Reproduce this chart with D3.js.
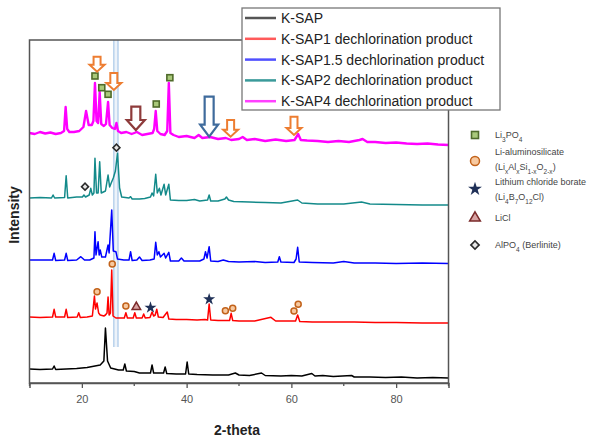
<!DOCTYPE html>
<html>
<head>
<meta charset="utf-8">
<script src="https://cdn.jsdelivr.net/npm/d3@7"></script>
<style>
body { margin: 0; background: #fff; }
text { font-family: "Liberation Sans", Arial, sans-serif; }
</style>
</head>
<body>
<script>
var W = 595, H = 441;

// XRD patterns, [2-theta, stacked intensity (a.u.)]
var kSap = [[10,14],[12,13.5],[14.4,14],[14.7,17],[15,13.5],[17,14],[19,14.5],[21,15.5],[22.5,17],[23.5,18],[24.2,22],[24.5,55],[24.9,22],[25.5,15],[27,13],[27.9,13],[28.2,19],[28.5,12],[30,11.5],[31,10],[33.1,10],[33.4,18],[33.7,10],[35.6,10],[35.9,16],[36.2,9.5],[38,9],[39.8,9],[40.1,21],[40.4,9],[42,8.5],[45,8],[48,8],[49.3,10],[50,8],[52,7.5],[54.3,10],[55,7.5],[58,7],[60,7.5],[62,7],[63.9,9.5],[64.5,7],[66,7.5],[68,6.5],[71.5,7.5],[72,6],[75,6],[78,5.5],[81,6],[84,5],[87,5.5],[90,5]];

var kSap1 = [[10,66],[12,65.5],[14.4,66],[14.7,73.7],[15,66],[16.7,66],[17,73.7],[17.3,65.5],[19.1,66],[19.4,70.3],[19.7,65.5],[21,66],[22,67],[22.4,87],[22.6,74],[22.9,80],[23.2,70],[23.5,68],[24.2,67],[24.5,68],[24.8,70],[25,86],[25.2,68],[25.45,70],[25.7,113],[25.95,67],[26.5,65],[28.1,65],[28.4,70.3],[28.7,65],[29.8,65],[30.1,70.3],[30.4,65],[31.5,65],[31.8,69],[32.1,65],[33,65.5],[33.4,71],[33.7,67],[34,68],[34.3,73.7],[34.6,66],[35.5,65.5],[36.3,71],[36.6,64],[38,63.5],[40,63.5],[42,63],[43.5,63.5],[44,63],[44.3,79],[44.6,63],[46,62.5],[48.2,62.5],[48.5,69.7],[48.8,62.5],[50,62],[53,62],[56.1,65.7],[57,62],[60.8,62],[61.2,68],[61.6,61.5],[64,61],[68,61],[72,61],[76,60.5],[80,60.5],[85,60],[90,60]];

var kSap15 = [[10,123],[12,123],[14.4,123],[14.7,129.7],[15,122.5],[16.7,123],[17,129.7],[17.3,122.5],[19,123],[19.8,126.3],[20.5,123],[21.5,123],[22.3,125],[22.5,151.3],[22.7,128],[23.1,141.3],[23.3,128],[23.5,133],[23.8,126],[24.5,126],[25,138],[25.2,130],[25.7,173],[26,132],[26.5,131.3],[26.8,124],[28,123],[29,123],[29.3,131.3],[29.6,122.5],[30.5,123],[31,126],[31.5,122.5],[33,123],[33.8,124],[34.1,140.7],[34.4,128],[34.7,131.3],[35,126],[35.7,129.7],[36,125],[36.6,130.7],[36.9,122],[38.5,122],[39,125],[39.5,122],[41,122],[42.5,122],[43.3,124],[43.6,131.3],[43.9,125],[44.3,136.3],[44.6,122],[46,121.5],[47,123],[48,121.5],[50,121],[53,121.5],[55,120.5],[57.4,121],[57.7,126.3],[58,121],[60.5,120.5],[60.9,124],[61.2,135.7],[61.5,121],[64,120.5],[68,120],[70,121.5],[72,120],[76,120],[80,119.5],[85,120],[90,119.5]];

var kSap2 = [[10,185],[12,185.5],[14.2,185],[14.5,188],[14.8,185],[16.7,185.5],[17,207.3],[17.3,185],[19,186],[20.1,186],[20.4,188],[20.7,186],[21.4,188],[21.7,194.7],[22,188],[22.3,190],[22.5,224.7],[22.8,190],[23.1,190],[23.4,221.3],[23.7,190],[24.5,192],[25,208],[25.3,196],[25.6,200],[26,205],[26.4,212],[26.8,229.7],[27.2,195],[27.6,186],[29,185],[29.3,186.3],[29.6,184],[31,184],[32,184.5],[33.1,186],[33.4,190],[33.7,187],[34.1,208.7],[34.4,190],[34.8,194.7],[35.1,188],[35.7,198.7],[36,188],[36.6,198.7],[36.9,183],[38.5,182.5],[40,182.5],[41.5,183.5],[42.5,182],[44,183],[44.3,188],[44.6,182],[46,182],[47.3,184],[47.6,186],[48,183],[49,181.5],[52,181],[55,180.5],[58,180],[61.2,183],[62,180],[65,179],[70,179],[73.4,181],[75,179],[80,178.5],[85,178],[90,178]];

var kSap4 = [[10,250],[11,249],[12,251],[13,249.5],[14,250.5],[15,249],[16,250],[16.6,252],[16.9,276],[17.2,254],[17.6,251],[18.5,251],[19.5,252],[20.3,256],[20.8,272],[21.3,258],[21.9,258],[22.2,262],[22.5,300],[22.8,262],[23.1,260],[23.4,291],[23.7,259],[24.2,257],[24.6,259],[25,281],[25.3,258],[25.8,255],[26.3,254],[26.6,260],[26.9,252],[27.5,250],[28.5,251],[29.5,249],[30.5,251],[31.5,248],[32.5,249],[33.5,250],[33.8,254],[34.1,272],[34.4,252],[35,249],[35.8,248],[36.3,252],[36.6,300],[36.9,250],[37.5,248],[38.5,246],[40,247],[41.5,245],[42.3,248],[43,245],[44.5,246],[46,244],[47.5,245],[48.5,243],[50,244],[50.7,246],[51.5,243],[53,244],[55,242],[57,243.5],[59,242],[60.6,243],[61.3,249],[61.8,243],[63,242.5],[65,242],[67,241],[69,242],[71,241],[73,243],[73.6,244],[74.5,241],[76,241],[78,240],[80,240.5],[82,239.5],[84,239],[86,239.5],[88,238.5],[90,238]];

var seriesNames = ["K-SAP", "K-SAP1 dechlorination product", "K-SAP1.5 dechlorination product", "K-SAP2 dechlorination product", "K-SAP4 dechlorination product"];
var seriesData = [kSap, kSap1, kSap15, kSap2, kSap4];
var seriesColors = ["#000000", "#ff0000", "#0000ff", "#138a8a", "#ff00ff"];
var legendColors = ["#555555", "#ff5a5a", "#5050ff", "#3a9a9a", "#ff40ff"];

// phase markers: [2-theta, intensity]
var li3po4Pts = [[22.5,307],[23.8,295.3],[25.0,288.7],[34.2,279],[36.8,305.3]];
var liAlSiPts = [[22.9,91.3],[25.8,119],[28.4,77],[47.4,72.3],[48.8,74.7],[60.5,72],[61.3,78.7]];
var liClBoratePts = [[33.1,75.3],[44.3,83.7]];
var liClPts = [[30.4,77]];
var alpo4Pts = [[20.6,196.3],[26.6,235.3]];

// arrows: [2-theta, top intensity, tip intensity]
var orangeArrows = [[22.9,326.3,311.3],[26.1,310,293],[48.4,263,246.3],[60.5,266.3,248]];
var brownArrows = [[30.3,276.3,253]];
var blueArrows = [[44.3,286.3,246.3]];

// reference band
var bandTheta = [26.1, 26.9];
var xTicksMajor = [20, 40, 60, 80];
var xTicksMinor = [10, 30, 50, 70, 90];

var svg = d3.select("body").append("svg").attr("width", W).attr("height", H);

var x = d3.scaleLinear().domain([10, 90]).range([29.5, 448.5]);
var y = d3.scaleLinear().domain([0, 343]).range([383, 40]);

// band
svg.append("rect")
   .attr("x", x(bandTheta[0])).attr("y", y(343))
   .attr("width", x(bandTheta[1]) - x(bandTheta[0]))
   .attr("height", y(36) - y(343))
   .attr("fill", "#edf3fa");
svg.selectAll("line.band").data(bandTheta).enter().append("line")
   .attr("class", "band")
   .attr("x1", function(d) { return x(d); }).attr("x2", function(d) { return x(d); })
   .attr("y1", y(343)).attr("y2", y(36))
   .attr("stroke", "#a9c8e8").attr("stroke-width", 1.2);

var line = d3.line().x(function(d) { return x(d[0]); }).y(function(d) { return y(d[1]); });

svg.selectAll("path.xrd").data(seriesData).enter().append("path")
   .attr("class", "xrd")
   .attr("d", line)
   .attr("fill", "none")
   .attr("stroke", function(d, i) { return seriesColors[i]; })
   .attr("stroke-width", function(d, i) { return i == 4 ? 2.4 : 1.5; })
   .attr("stroke-linejoin", "round");

// markers
function sq(g, px, py, s) {
  g.append("rect").attr("x", px - s/2).attr("y", py - s/2).attr("width", s).attr("height", s)
   .attr("fill", "#a9c97a").attr("stroke", "#4f6b2a").attr("stroke-width", 1.6);
}
function circ(g, px, py, r) {
  g.append("circle").attr("cx", px).attr("cy", py).attr("r", r)
   .attr("fill", "#f7c9a0").attr("stroke", "#c2621a").attr("stroke-width", 1.5);
}
function star(g, px, py, s) {
  g.append("path").attr("d", d3.symbol().type(d3.symbolStar).size(s)())
   .attr("transform", "translate(" + px + "," + py + ")")
   .attr("fill", "#1f3057");
}
function tri(g, px, py, s) {
  g.append("path").attr("d", d3.symbol().type(d3.symbolTriangle).size(s)())
   .attr("transform", "translate(" + px + "," + (py + 1) + ")")
   .attr("fill", "#d8a3a3").attr("stroke", "#7a2a2a").attr("stroke-width", 1.5);
}
function diam(g, px, py, s) {
  g.append("path").attr("d", d3.symbol().type(d3.symbolSquare).size(s)())
   .attr("transform", "translate(" + px + "," + py + ") rotate(45)")
   .attr("fill", "#e6e6e6").attr("stroke", "#2a2a2a").attr("stroke-width", 1.6);
}

var mk = svg.append("g");
li3po4Pts.forEach(function(d) { sq(mk, x(d[0]), y(d[1]), 6); });
liAlSiPts.forEach(function(d) { circ(mk, x(d[0]), y(d[1]), 3); });
liClBoratePts.forEach(function(d) { star(mk, x(d[0]), y(d[1]), 45); });
liClPts.forEach(function(d) { tri(mk, x(d[0]), y(d[1]), 32); });
alpo4Pts.forEach(function(d) { diam(mk, x(d[0]), y(d[1]), 24); });

// arrows
function arrow(d, color, bw, hw, hl, sw) {
  var cx = x(d[0]), t = y(d[1]), p = y(d[2]);
  var pts = [[cx - bw/2, t], [cx + bw/2, t], [cx + bw/2, p - hl], [cx + hw/2, p - hl],
             [cx, p], [cx - hw/2, p - hl], [cx - bw/2, p - hl]];
  svg.append("path")
     .attr("d", "M" + pts.join("L") + "Z")
     .attr("fill", "#fff").attr("stroke", color).attr("stroke-width", sw)
     .attr("stroke-linejoin", "miter");
}
orangeArrows.forEach(function(d) { arrow(d, "#ed7d31", 7, 15, 7, 2); });
brownArrows.forEach(function(d) { arrow(d, "#8e3b3b", 9, 18, 10, 2.2); });
blueArrows.forEach(function(d) { arrow(d, "#3f6b9c", 9, 18, 12, 2.2); });

// frame and axis
svg.append("rect").attr("x", 29.5).attr("y", 40).attr("width", 419).attr("height", 343)
   .attr("fill", "none").attr("stroke", "#555").attr("stroke-width", 1.5);

var xAxis = svg.append("g").attr("transform", "translate(0,383)")
   .call(d3.axisBottom(x).tickValues(xTicksMajor).tickSize(5).tickPadding(7));
xAxis.select(".domain").attr("stroke", "#555").attr("stroke-width", 1.5);
xAxis.selectAll(".tick line").attr("stroke", "#555").attr("stroke-width", 1.3);
xAxis.selectAll("text").attr("font-size", 11).attr("fill", "#555")
     .attr("font-family", "'Liberation Sans', Arial, sans-serif");

svg.append("g").selectAll("line").data(xTicksMinor).enter().append("line")
   .attr("x1", function(d) { return x(d); }).attr("x2", function(d) { return x(d); })
   .attr("y1", 383).attr("y2", 386)
   .attr("stroke", "#555").attr("stroke-width", 1.3);

svg.append("text").attr("x", 237).attr("y", 435).attr("text-anchor", "middle")
   .attr("font-size", 14).attr("font-weight", "bold").attr("fill", "#222")
   .text("2-theta");

svg.append("text").attr("transform", "translate(19,215) rotate(-90)")
   .attr("text-anchor", "middle")
   .attr("font-size", 14).attr("font-weight", "bold").attr("fill", "#222")
   .text("Intensity");

// series legend
var lg = svg.append("g");
lg.append("rect").attr("x", 242).attr("y", 8).attr("width", 258).attr("height", 102)
  .attr("fill", "#fff").attr("stroke", "#777").attr("stroke-width", 1.3);
seriesNames.forEach(function(n, i) {
  var cy = 18 + i * 20.8;
  lg.append("line").attr("x1", 245).attr("x2", 276).attr("y1", cy).attr("y2", cy)
    .attr("stroke", legendColors[i]).attr("stroke-width", 2.5);
  lg.append("text").attr("x", 281).attr("y", cy + 5).attr("font-size", 14).attr("fill", "#222")
    .text(n);
});

// phase legend
var pl = svg.append("g");
var lx = 475, tx = 495;
sq(pl, lx, 135, 7);
circ(pl, lx, 161, 4.5);
star(pl, lx, 189, 60);
tri(pl, lx, 217, 50);
diam(pl, lx, 245, 34);

function chem(parent, px, py, parts) {
  var t = parent.append("text").attr("x", px).attr("y", py).attr("font-size", 9).attr("fill", "#444");
  parts.forEach(function(p) {
    var s = t.append("tspan").text(p[0]);
    if (p[1]) s.attr("font-size", 6.5).attr("baseline-shift", "sub");
  });
}
chem(pl, tx, 138, [["Li"],["3",1],["PO"],["4",1]]);
chem(pl, tx, 155, [["Li-aluminosilicate"]]);
chem(pl, tx, 170, [["(Li"],["x",1],["Al"],["x",1],["Si"],["1-x",1],["O"],["2-x",1],[")"]]);
chem(pl, tx, 185, [["Lithium chloride borate"]]);
chem(pl, tx, 200, [["(Li"],["4",1],["B"],["7",1],["O"],["12",1],["Cl)"]]);
chem(pl, tx, 221, [["LiCl"]]);
chem(pl, tx, 248, [["AlPO"],["4",1],[" (Berlinite)"]]);
</script>
</body>
</html>
